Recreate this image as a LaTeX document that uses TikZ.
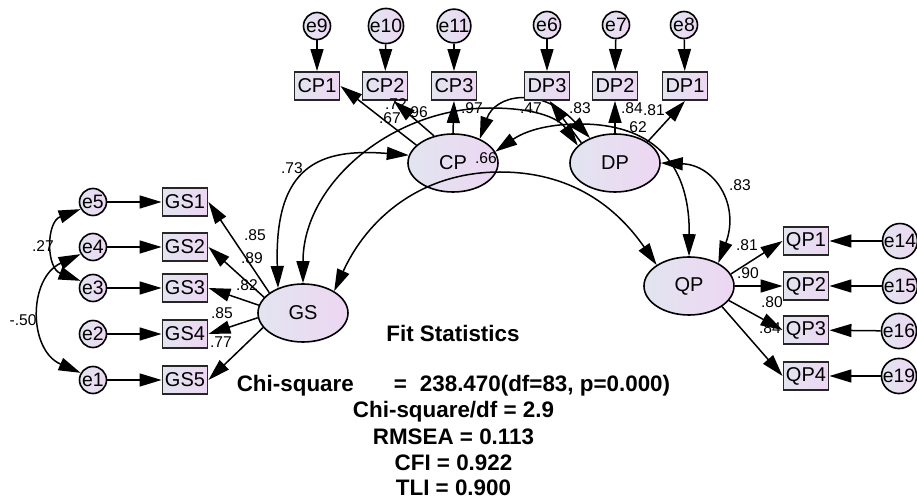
\documentclass[tikz,border=0pt]{standalone}
\usepackage{fontspec}
\setmainfont{Liberation Sans}
\usetikzlibrary{arrows.meta,shapes.geometric}
\definecolor{shA}{RGB}{226,229,239}
\definecolor{shB}{RGB}{237,214,243}
\begin{document}
\begin{tikzpicture}[x=0.5pt,y=-0.5pt,
  lat/.style={ellipse, draw=black, line width=0.8pt, left color=shA, right color=shB,
    minimum width=45pt, minimum height=29pt, inner sep=0pt, font=\fontsize{10}{11}\selectfont},
  obs/.style={rectangle, draw=black!85, line width=0.95pt, left color=shA, right color=shB,
    minimum width=22.5pt, minimum height=14pt, inner sep=0pt, font=\fontsize{10}{11}\selectfont},
  err/.style={circle, draw=black, line width=0.8pt, left color=shA, right color=shB,
    minimum size=13.5pt, inner sep=0pt, font=\fontsize{9.7}{11}\selectfont},
  arr/.style={-{Triangle[length=11pt,width=6.5pt]}, line width=0.75pt},
  both/.style={{Triangle[length=11pt,width=6.5pt]}-{Triangle[length=11pt,width=6.5pt]}, line width=0.75pt},
  lab/.style={inner sep=0pt, font=\fontsize{7.8}{9}\selectfont},
  fit/.style={inner sep=0pt, font=\fontsize{11.2}{13}\selectfont\bfseries}]
\useasboundingbox (0,0) rectangle (917,502);

% latent variables
\node[lat] (CP) at (453,163) {CP};
\node[lat] (DP) at (615,163) {DP};
\node[lat] (GS) at (303,313) {GS};
\node[lat] (QP) at (689,286) {QP};

% curved connectors
\draw[both] (GS.135) .. controls (274,165) and (320,148) .. (CP.170);
\draw[both] (GS.90) .. controls (303,183) and (393,108) .. (490,108)
  .. controls (540,108) and (560,120) .. (DP.155);
\draw[both] (GS.35) .. controls (366.8,219.5) and (420,172) .. (500,172)
  .. controls (571,172) and (616,206.5) .. (QP.147);
\draw[both] (CP.42) .. controls (495,95) and (540,85) .. (DP.135);
\draw[both] (CP.15) .. controls (523.7,132) and (545,124) .. (580,124)
  .. controls (650,124) and (690,160) .. (QP.north);
\draw[both] (DP.east) .. controls (715,165) and (740,205) .. (QP.38);

% observed variables
\node[obs] (CP1) at (317,86) {CP1};
\node[obs] (CP2) at (385,86) {CP2};
\node[obs] (CP3) at (454,86) {CP3};
\node[obs] (DP3) at (547,86) {DP3};
\node[obs] (DP2) at (615,86) {DP2};
\node[obs] (DP1) at (685,86) {DP1};
\node[obs] (GS1) at (185,202) {GS1};
\node[obs] (GS2) at (185,247) {GS2};
\node[obs] (GS3) at (185,288) {GS3};
\node[obs] (GS4) at (185,334) {GS4};
\node[obs] (GS5) at (185,380) {GS5};
\node[obs] (QP1) at (806,241) {QP1};
\node[obs] (QP2) at (806,286) {QP2};
\node[obs] (QP3) at (806,330) {QP3};
\node[obs] (QP4) at (806,376) {QP4};

% error terms
\node[err] (e9) at (317,26) {e9};
\node[err] (e10) at (386,26) {e10};
\node[err] (e11) at (454,26) {e11};
\node[err] (e6) at (547,25) {e6};
\node[err] (e7) at (616,25) {e7};
\node[err] (e8) at (684,25) {e8};
\node[err] (e5) at (93,202) {e5};
\node[err] (e4) at (93,247) {e4};
\node[err] (e3) at (93,288) {e3};
\node[err] (e2) at (93,334) {e2};
\node[err] (e1) at (93,380) {e1};
\node[err] (e14) at (900,241) {e14};
\node[err] (e15) at (900,286) {e15};
\node[err] (e16) at (899,331) {e16};
\node[err] (e19) at (899,376) {e19};

% error arrows
\draw[arr] (e9) -- (CP1);
\draw[arr] (e10) -- (CP2);
\draw[arr] (e11) -- (CP3);
\draw[arr] (e6) -- (DP3);
\draw[arr] (e7) -- (DP2);
\draw[arr] (e8) -- (DP1);
\draw[arr] (e5) -- (GS1);
\draw[arr] (e4) -- (GS2);
\draw[arr] (e3) -- (GS3);
\draw[arr] (e2) -- (GS4);
\draw[arr] (e1) -- (GS5);
\draw[arr] (e14) -- (QP1);
\draw[arr] (e15) -- (QP2);
\draw[arr] (e16) -- (QP3);
\draw[arr] (e19) -- (QP4);

% error covariances
\draw[both] (e5.210) .. controls (46,222) and (46,268) .. (e3.150);
\draw[both] (e4.210) .. controls (28,278) and (28,350) .. (e1.150);

% loadings
\draw[arr] (GS.149) -- (GS1.east);
\draw[arr] (GS.158) -- (GS2.east);
\draw[arr] (GS.170) -- (GS3.east);
\draw[arr] (GS.186) -- (GS4.east);
\draw[arr] (GS.200) -- (GS5.east);
\draw[arr] (CP.154) -- (CP1.east);
\draw[arr] (CP.125) -- (CP2.-60);
\draw[arr] (CP.north) -- (CP3.south);
\draw[arr] (DP.149) -- (DP3.-80);
\draw[arr] (DP.north) -- (DP2.south);
\draw[arr] (DP.33) -- (DP1.south);
\draw[arr] (QP.16) -- (QP1.west);
\draw[arr] (QP.east) -- (QP2.west);
\draw[arr] (QP.-20) -- (QP3.west);
\draw[arr] (QP.-32) -- (QP4.west);

% coefficient labels
\node[lab] (l73) at (292,168) {.73};
\node[lab] (l67) at (390,118) {.67};
\node[lab] (l72) at (396,104) {.72};
\node[lab] (l96) at (417,112) {.96};
\node[lab] (l97) at (472,108) {.97};
\node[lab] (l66) at (486,158) {.66};
\node[lab] (l47) at (531,108) {.47};
\node[lab] (l83a) at (580,108) {.83};
\node[lab] (l84a) at (632,108) {.84};
\node[lab] (l81a) at (654,110) {.81};
\node[lab] (l62) at (636,127) {.62};
\node[lab] (l83b) at (740,185) {.83};
\node[lab] (l81b) at (747,245) {.81};
\node[lab] (l90) at (748,273) {.90};
\node[lab] (l80) at (772,302) {.80};
\node[lab] (l84b) at (770,328) {.84};
\node[lab] (l85a) at (255,235) {.85};
\node[lab] (l89) at (252,258) {.89};
\node[lab] (l82) at (247,285) {.82};
\node[lab] (l85b) at (222,313) {.85};
\node[lab] (l77) at (221,342) {.77};
\node[lab] (l27) at (43,246) {.27};
\node[lab] (l50) at (23,320) {-.50};

% fit statistics
\node[fit] (ft0) at (453,333) {Fit Statistics};
\node[fit] (ft1) at (453.5,386) {Chi-square\hspace{20pt}=\hspace{6.5pt}238.470(df=83, p=0.000)};
\node[fit] (ft2) at (453.5,412) {Chi-square/df = 2.9};
\node[fit] (ft3) at (453.5,437) {RMSEA = 0.113};
\node[fit] (ft4) at (453.5,463) {CFI = 0.922};
\node[fit] (ft5) at (453.5,488) {TLI = 0.900};
\end{tikzpicture}
\end{document}
